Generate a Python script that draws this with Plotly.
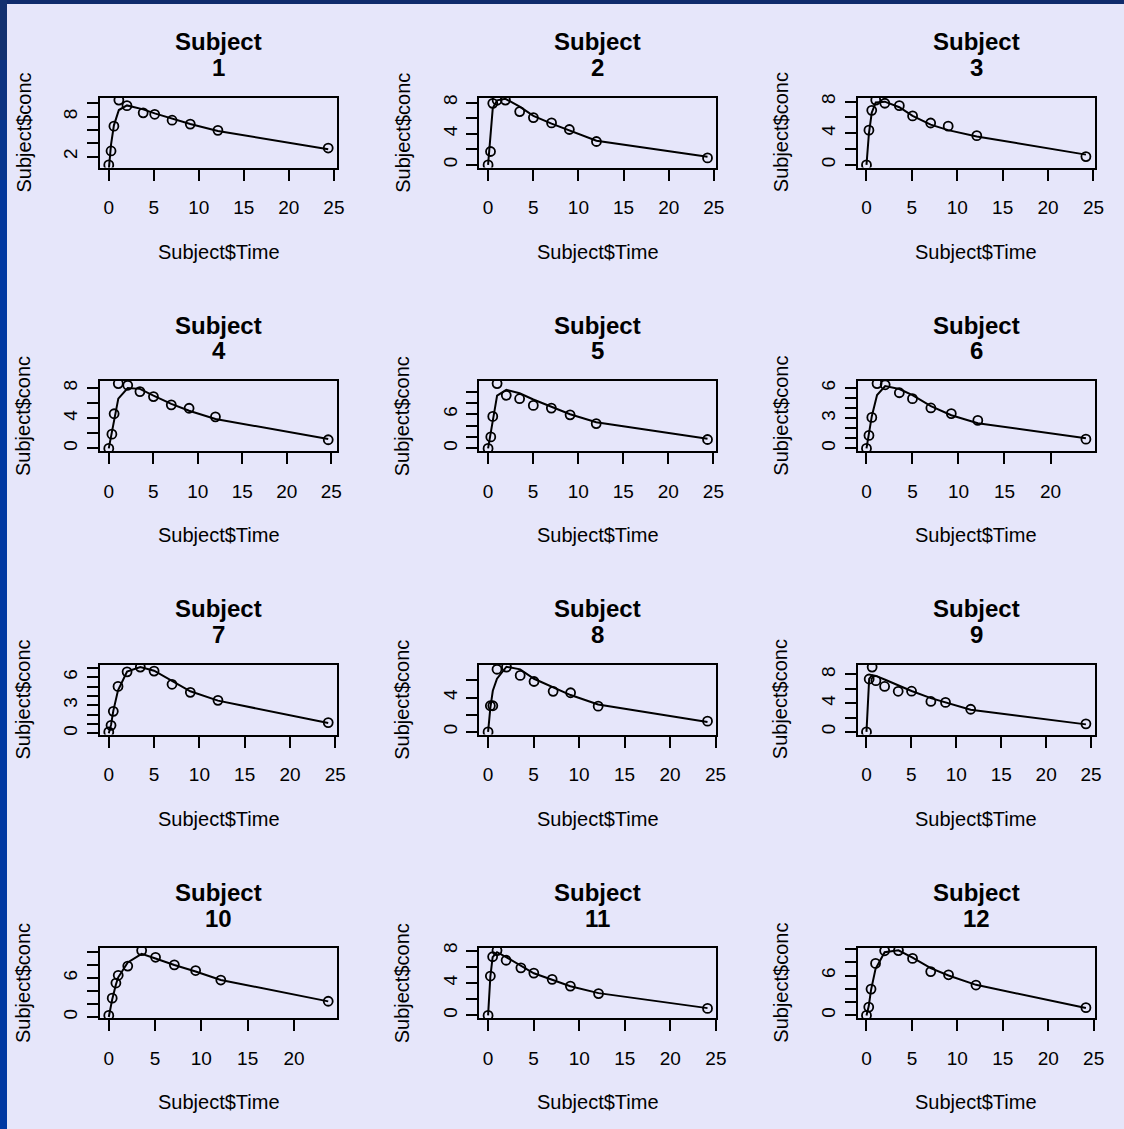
import plotly.graph_objects as go

W, H = 1124, 1129

# Theophylline study: sampling time (h), observed concentration (mg/L)
# and fitted one-compartment model value at each sampling time.
time_01 = [0.00, 0.25, 0.57, 1.12, 2.02, 3.82, 5.10, 7.03, 9.05, 12.12, 24.37]
conc_01 = [0.74, 2.84, 6.57, 10.50, 9.66, 8.58, 8.36, 7.47, 6.89, 5.94, 3.28]
fit_01 = [0.00, 3.80, 6.70, 9.00, 9.70, 9.10, 8.50, 7.70, 6.90, 5.85, 3.10]

time_02 = [0.00, 0.27, 0.52, 1.00, 1.92, 3.50, 5.02, 7.03, 9.00, 12.00, 24.30]
conc_02 = [0.00, 1.72, 7.91, 8.31, 8.33, 6.85, 6.08, 5.40, 4.55, 3.01, 0.90]
fit_02 = [0.00, 3.80, 7.30, 8.30, 8.50, 7.50, 6.30, 5.30, 4.40, 3.10, 1.05]

time_03 = [0.00, 0.27, 0.58, 1.02, 2.02, 3.62, 5.08, 7.07, 9.00, 12.15, 24.17]
conc_03 = [0.00, 4.40, 6.90, 8.20, 7.80, 7.50, 6.20, 5.30, 4.90, 3.70, 1.05]
fit_03 = [0.00, 4.00, 6.60, 7.90, 8.00, 7.30, 6.20, 5.10, 4.40, 3.60, 1.30]

time_04 = [0.00, 0.35, 0.60, 1.07, 2.13, 3.50, 5.02, 7.02, 9.02, 11.98, 24.65]
conc_04 = [0.00, 1.89, 4.60, 8.60, 8.38, 7.54, 6.88, 5.78, 5.33, 4.19, 1.15]
fit_04 = [0.00, 2.20, 4.00, 6.60, 8.00, 7.90, 7.00, 5.90, 5.00, 3.90, 1.25]

time_05 = [0.00, 0.30, 0.52, 1.00, 2.02, 3.50, 5.02, 7.02, 9.10, 12.00, 24.35]
conc_05 = [0.00, 2.02, 5.63, 11.40, 9.33, 8.74, 7.56, 7.09, 5.90, 4.37, 1.57]
fit_05 = [0.00, 2.70, 5.40, 9.30, 10.30, 9.70, 8.60, 7.30, 6.00, 4.60, 1.70]

time_06 = [0.00, 0.27, 0.58, 1.15, 2.03, 3.57, 5.00, 7.00, 9.22, 12.10, 23.85]
conc_06 = [0.00, 1.29, 3.08, 6.44, 6.32, 5.53, 4.94, 4.02, 3.46, 2.78, 0.92]
fit_06 = [0.00, 1.60, 3.20, 5.30, 6.20, 5.90, 5.30, 4.20, 3.30, 2.50, 1.00]

time_07 = [0.00, 0.25, 0.50, 1.02, 2.02, 3.48, 5.00, 6.98, 9.00, 12.05, 24.22]
conc_07 = [0.15, 0.85, 2.35, 5.02, 6.58, 7.09, 6.66, 5.25, 4.39, 3.53, 1.15]
fit_07 = [0.00, 0.90, 2.40, 4.60, 6.60, 7.10, 6.70, 5.60, 4.50, 3.50, 1.10]

time_08 = [0.00, 0.25, 0.52, 0.98, 2.02, 3.53, 5.05, 7.15, 9.07, 12.10, 24.12]
conc_08 = [0.00, 3.05, 3.05, 7.31, 7.56, 6.59, 5.88, 4.73, 4.57, 3.00, 1.25]
fit_08 = [0.00, 2.80, 4.80, 6.20, 7.60, 7.30, 6.20, 5.20, 4.30, 3.20, 1.15]

time_09 = [0.00, 0.30, 0.63, 1.05, 2.02, 3.53, 5.02, 7.17, 8.80, 11.60, 24.43]
conc_09 = [0.00, 7.37, 9.03, 7.14, 6.33, 5.66, 5.67, 4.24, 4.11, 3.16, 1.12]
fit_09 = [0.00, 7.40, 7.90, 7.80, 7.30, 6.50, 5.70, 4.70, 4.10, 3.10, 1.05]

time_10 = [0.00, 0.37, 0.77, 1.02, 2.05, 3.55, 5.05, 7.08, 9.38, 12.10, 23.70]
conc_10 = [0.24, 2.89, 5.22, 6.41, 7.83, 10.21, 9.18, 8.02, 7.14, 5.68, 2.42]
fit_10 = [0.00, 2.70, 5.00, 6.10, 8.40, 9.70, 9.00, 8.00, 7.00, 5.70, 2.40]

time_11 = [0.00, 0.25, 0.50, 0.98, 1.98, 3.60, 5.02, 7.03, 9.03, 12.12, 24.08]
conc_11 = [0.00, 4.86, 7.24, 8.00, 6.81, 5.87, 5.22, 4.45, 3.62, 2.69, 0.86]
fit_11 = [0.00, 4.80, 7.20, 7.80, 7.20, 6.10, 5.20, 4.40, 3.60, 2.75, 0.90]

time_12 = [0.00, 0.25, 0.50, 1.00, 2.00, 3.52, 5.07, 7.07, 9.03, 12.05, 24.15]
conc_12 = [0.00, 1.25, 3.96, 7.82, 9.72, 9.75, 8.57, 6.59, 6.11, 4.57, 1.17]
fit_12 = [0.00, 1.40, 3.80, 7.00, 9.50, 9.80, 8.70, 7.10, 6.00, 4.60, 1.10]

# Axis ticks; empty strings are ticks drawn without a label
x_tick_vals = [0, 5, 10, 15, 20, 25]
x_tick_text = ["0", "5", "10", "15", "20", "25"]

y_ticks_01 = [2, 4, 6, 8, 10]
y_text_01 = ["2", "", "", "8", ""]
y_ticks_even8 = [0, 2, 4, 6, 8]
y_text_even8 = ["0", "", "4", "", "8"]
y_ticks_even10 = [0, 2, 4, 6, 8, 10]
y_text_even10 = ["0", "", "", "6", "", ""]
y_ticks_06 = [0, 1, 2, 3, 4, 5, 6]
y_text_06 = ["0", "", "", "3", "", "", "6"]
y_ticks_07 = [0, 1, 2, 3, 4, 5, 6, 7]
y_text_07 = ["0", "", "", "3", "", "", "6", ""]
y_ticks_08 = [0, 2, 4, 6]
y_text_08 = ["0", "", "4", ""]

panels = [
    ("1", time_01, conc_01, fit_01, y_ticks_01, y_text_01),
    ("2", time_02, conc_02, fit_02, y_ticks_even8, y_text_even8),
    ("3", time_03, conc_03, fit_03, y_ticks_even8, y_text_even8),
    ("4", time_04, conc_04, fit_04, y_ticks_even8, y_text_even8),
    ("5", time_05, conc_05, fit_05, y_ticks_even10, y_text_even10),
    ("6", time_06, conc_06, fit_06, y_ticks_06, y_text_06),
    ("7", time_07, conc_07, fit_07, y_ticks_07, y_text_07),
    ("8", time_08, conc_08, fit_08, y_ticks_08, y_text_08),
    ("9", time_09, conc_09, fit_09, y_ticks_even8, y_text_even8),
    ("10", time_10, conc_10, fit_10, y_ticks_even10, y_text_even10),
    ("11", time_11, conc_11, fit_11, y_ticks_even8, y_text_even8),
    ("12", time_12, conc_12, fit_12, y_ticks_even10, y_text_even10),
]

# Panel box geometry in pixels
col_left = [100.0, 479.3, 857.7]
box_w = 237.0
row_top = [97.5, 381.0, 664.5, 948.0]
box_h = 70.0

FONT = "Liberation Sans, Arial, Helvetica, sans-serif"
BG = "#E6E6FA"


def px_x(x):
    return x / W


def px_y(y):
    return 1 - y / H


def padded(values):
    lo, hi = min(values), max(values)
    d = (hi - lo) * 0.04
    return [lo - d, hi + d]


fig = go.Figure()
layout = {}
annotations = []

for i, (label, t, c, f, yt, ytxt) in enumerate(panels):
    r, k = divmod(i, 3)
    n = i + 1
    left = col_left[k]
    top = row_top[r]
    xa = "x" if n == 1 else f"x{n}"
    ya = "y" if n == 1 else f"y{n}"

    fig.add_trace(go.Scatter(
        x=t, y=f, xaxis=xa, yaxis=ya, mode="lines",
        line=dict(color="black", width=2), showlegend=False, hoverinfo="skip"))
    fig.add_trace(go.Scatter(
        x=t, y=c, xaxis=xa, yaxis=ya, mode="markers",
        marker=dict(symbol="circle-open", size=9, color="black",
                    line=dict(color="black", width=1.8)),
        showlegend=False))

    axis_common = dict(
        showline=True, mirror=True, linecolor="black", linewidth=2,
        ticks="outside", ticklen=11, tickwidth=2, tickcolor="black",
        showgrid=False, zeroline=False, automargin=False,
        tickfont=dict(family=FONT, size=19, color="black"),
    )
    layout["xaxis" if n == 1 else f"xaxis{n}"] = dict(
        axis_common,
        domain=[px_x(left), px_x(left + box_w)],
        range=padded(t), anchor=ya,
        tickmode="array", tickvals=x_tick_vals, ticktext=x_tick_text,
        ticklabelstandoff=11,
    )
    layout["yaxis" if n == 1 else f"yaxis{n}"] = dict(
        axis_common,
        domain=[px_y(top + box_h), px_y(top)],
        range=padded(c), anchor=xa,
        tickmode="array", tickvals=yt, ticktext=ytxt,
        tickangle=-90, ticklabelstandoff=2,
    )

    cx = left + box_w / 2
    annotations += [
        dict(text="Subject", x=px_x(cx), y=px_y(top - 55.6),
             font=dict(family=FONT, size=24, color="black", weight="bold")),
        dict(text=label, x=px_x(cx), y=px_y(top - 30.0),
             font=dict(family=FONT, size=24, color="black", weight="bold")),
        dict(text="Subject$Time", x=px_x(cx), y=px_y(top + box_h + 84.3),
             font=dict(family=FONT, size=20, color="black")),
        dict(text="Subject$conc", x=px_x(left - 77), y=px_y(top + box_h / 2),
             textangle=-90, font=dict(family=FONT, size=20, color="black")),
    ]

for a in annotations:
    a.update(xref="paper", yref="paper", showarrow=False,
             xanchor="center", yanchor="middle")

# Dark blue frame along the top and left edges of the page
shapes = [
    dict(type="rect", xref="paper", yref="paper", x0=0, x1=1,
         y0=px_y(4), y1=1, fillcolor="#0F2B6C", line=dict(width=0), layer="below"),
]
left_band = ["#12306F", "#0C3280", "#07358F", "#03379B", "#0038A2"]
for j, colr in enumerate(left_band):
    y0 = j * 60
    y1 = H if j == len(left_band) - 1 else (j + 1) * 60
    shapes.append(dict(type="rect", xref="paper", yref="paper",
                       x0=0, x1=px_x(7), y0=px_y(y1), y1=px_y(y0),
                       fillcolor=colr, line=dict(width=0), layer="below"))

fig.update_layout(
    **layout,
    width=W, height=H,
    margin=dict(l=0, r=0, t=0, b=0, autoexpand=False),
    paper_bgcolor=BG, plot_bgcolor=BG,
    annotations=annotations, shapes=shapes,
    showlegend=False,
)

fig.write_html("out.html")
